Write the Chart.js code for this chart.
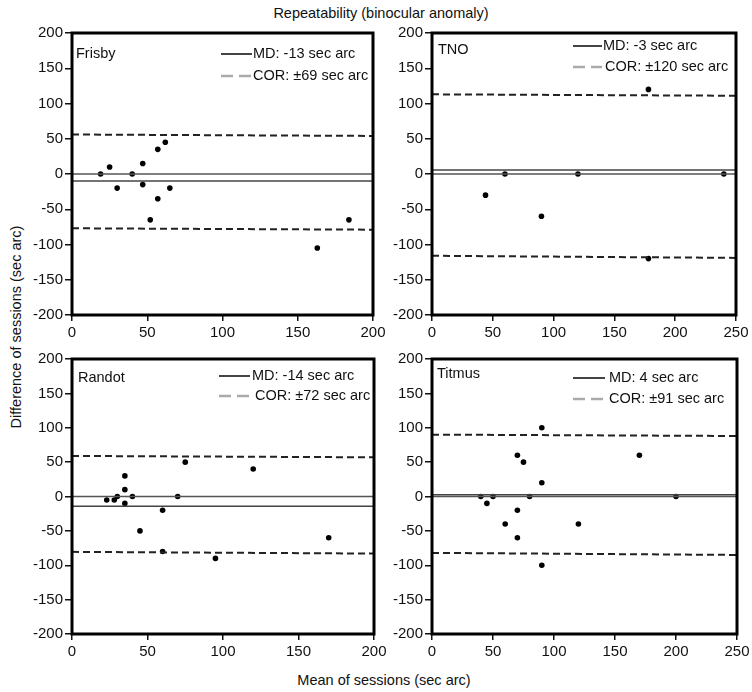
<!DOCTYPE html>
<html><head><meta charset="utf-8">
<script src="https://cdn.jsdelivr.net/npm/chart.js@4.4.1/dist/chart.umd.min.js"></script>
<style>
html,body{margin:0;padding:0;background:#fff;}
body{width:752px;height:692px;position:relative;overflow:hidden;font-family:"Liberation Sans",Arial,sans-serif;color:#111;}
canvas{position:absolute;}
.t{position:absolute;font-size:14.5px;line-height:16px;white-space:nowrap;text-align:center;width:300px;}
</style></head><body>
<div class="t" style="left:231px;top:5px;">Repeatability (binocular anomaly)</div>
<div class="t" style="left:-134px;top:319px;transform:rotate(-90deg);">Difference of sessions (sec arc)</div>
<div class="t" style="left:234px;top:672px;">Mean of sessions (sec arc)</div>
<canvas id="p1" width="370" height="335" style="left:20px;top:20px;width:370px;height:335px"></canvas>
<canvas id="p2" width="362" height="335" style="left:390px;top:20px;width:362px;height:335px"></canvas>
<canvas id="p3" width="370" height="320" style="left:20px;top:345px;width:370px;height:320px"></canvas>
<canvas id="p4" width="362" height="320" style="left:390px;top:345px;width:362px;height:320px"></canvas>
<script>
// ---- data ----
const yTicks = [-200, -150, -100, -50, 0, 50, 100, 150, 200];

const frisbyMean = [19, 25, 30, 40, 47, 47, 57, 62, 57, 52, 65, 163, 184];
const frisbyDiff = [0, 10, -20, 0, 15, -15, 35, 45, -35, -65, -20, -105, -65];
const frisbyMD = -10;
const frisbyUpper = [56, 54];
const frisbyLower = [-77, -79];
const frisbyLegend = ["MD: -13 sec arc", "COR: \u00b169 sec arc"];

const tnoMean = [44, 60, 90, 120, 178, 178, 240];
const tnoDiff = [-30, 0, -60, 0, 120, -120, 0];
const tnoMD = 5.5;
const tnoUpper = [113, 111];
const tnoLower = [-116, -119];
const tnoLegend = ["MD: -3 sec arc", "COR: \u00b1120 sec arc"];

const randotMean = [23, 28, 30, 35, 35, 35, 40, 45, 60, 60, 70, 75, 95, 120, 170];
const randotDiff = [-5, -5, 0, 30, 10, -10, 0, -50, -20, -80, 0, 50, -90, 40, -60];
const randotMD = -14;
const randotUpper = [59, 57];
const randotLower = [-80.5, -83];
const randotLegend = ["MD: -14 sec arc", "COR: \u00b172 sec arc"];

const titmusMean = [40, 45, 50, 60, 70, 75, 70, 70, 80, 90, 90, 90, 120, 170, 200];
const titmusDiff = [0, -10, 0, -40, 60, 50, -20, -60, 0, 100, 20, -100, -40, 60, 0];
const titmusMD = 2.5;
const titmusUpper = [90, 88];
const titmusLower = [-82, -85];
const titmusLegend = ["MD: 4 sec arc", "COR: \u00b191 sec arc"];

// ---- drawing ----
const FONT = '"Liberation Sans", Arial, sans-serif';

const panelDeco = {
  id: 'panelDeco',
  afterDraw(chart, args, o) {
    const ctx = chart.ctx, a = chart.chartArea;
    ctx.save();
    ctx.strokeStyle = '#000';
    ctx.lineWidth = 3;
    ctx.strokeRect(a.left, a.top, a.right - a.left, a.bottom - a.top);
    ctx.fillStyle = '#111';
    ctx.font = '14.5px ' + FONT;
    ctx.textBaseline = 'middle';
    ctx.textAlign = 'left';
    ctx.fillText(o.name, a.left + o.nameX, a.top + o.nameY);
    // MD sample
    ctx.strokeStyle = '#444';
    ctx.lineWidth = 2;
    ctx.beginPath();
    ctx.moveTo(a.right - o.lx, a.top + o.y1);
    ctx.lineTo(a.right - o.lx + o.lw, a.top + o.y1);
    ctx.stroke();
    ctx.fillText(o.legend[0], a.right - o.tx1, a.top + o.y1);
    // COR sample
    ctx.strokeStyle = '#aaa';
    ctx.lineWidth = 2.5;
    ctx.setLineDash([12, 6]);
    ctx.beginPath();
    ctx.moveTo(a.right - o.lx, a.top + o.y2);
    ctx.lineTo(a.right - o.lx + o.lw, a.top + o.y2);
    ctx.stroke();
    ctx.setLineDash([]);
    ctx.fillText(o.legend[1], a.right - o.tx2, a.top + o.y2);
    ctx.restore();
  }
};

function makePanel(id, mean, diff, md, upper, lower, xMax, legend, deco, sizes) {
  const pts = mean.map((x, i) => ({ x: x, y: diff[i] }));
  const line = (y0, y1) => [{ x: 0, y: y0 }, { x: xMax, y: y1 }];
  const lineDs = (data, dash, color, w) => ({
    type: 'line', data: data, showLine: true, pointRadius: 0,
    borderColor: color, borderWidth: w, borderDash: dash, fill: false
  });
  new Chart(document.getElementById(id), {
    type: 'scatter',
    data: {
      datasets: [
        lineDs(line(0, 0), [], '#555', 1.5),
        lineDs(line(md, md), [], '#444', 1.5),
        lineDs(line(upper[0], upper[1]), [7, 4], '#222', 2),
        lineDs(line(lower[0], lower[1]), [7, 4], '#222', 2),
        { data: pts, pointRadius: 2.8, backgroundColor: '#000', borderWidth: 0 }
      ]
    },
    options: {
      responsive: false,
      animation: false,
      layout: { padding: { top: sizes.top, right: sizes.right, left: 0, bottom: 0 } },
      plugins: {
        legend: { display: false },
        tooltip: { enabled: false },
        panelDeco: Object.assign({ legend: legend }, deco)
      },
      scales: {
        x: {
          type: 'linear', min: 0, max: xMax,
          ticks: { stepSize: 50, color: '#111', font: { size: 15, family: FONT }, padding: 3, maxRotation: 0 },
          grid: { drawOnChartArea: false, drawTicks: true, tickLength: 6, color: '#111', lineWidth: 1.5 },
          border: { display: false },
          afterFit(s) { s.height = sizes.xh; s.paddingLeft = 0; s.paddingRight = 0; }
        },
        y: {
          type: 'linear', min: -200, max: 200,
          afterBuildTicks(s) { s.ticks = yTicks.map(v => ({ value: v })); },
          ticks: { color: '#111', font: { size: 15, family: FONT }, padding: 2 },
          grid: { drawOnChartArea: false, drawTicks: true, tickLength: 7, color: '#111', lineWidth: 1.5 },
          border: { display: false },
          afterFit(s) { s.width = sizes.yw; s.paddingTop = 0; s.paddingBottom = 0; }
        }
      }
    },
    plugins: [panelDeco]
  });
}

makePanel('p1', frisbyMean, frisbyDiff, frisbyMD, frisbyUpper, frisbyLower, 200, frisbyLegend,
  { name: 'Frisby', nameX: 4, nameY: 21, lx: 152, lw: 31, tx1: 120, tx2: 120, y1: 21, y2: 43 },
  { top: 13, right: 17, yw: 52, xh: 40 });
makePanel('p2', tnoMean, tnoDiff, tnoMD, tnoUpper, tnoLower, 250, tnoLegend,
  { name: 'TNO', nameX: 6, nameY: 17, lx: 163, lw: 29, tx1: 133, tx2: 131, y1: 13, y2: 34 },
  { top: 13, right: 16, yw: 42, xh: 40 });
makePanel('p3', randotMean, randotDiff, randotMD, randotUpper, randotLower, 200, randotLegend,
  { name: 'Randot', nameX: 6, nameY: 19, lx: 155, lw: 31, tx1: 122, tx2: 119, y1: 17, y2: 37 },
  { top: 14, right: 16, yw: 52, xh: 31 });
makePanel('p4', titmusMean, titmusDiff, titmusMD, titmusUpper, titmusLower, 250, titmusLegend,
  { name: 'Titmus', nameX: 5, nameY: 15, lx: 164, lw: 32, tx1: 128, tx2: 128, y1: 19, y2: 40 },
  { top: 14, right: 15, yw: 42, xh: 31 });
</script>
</body></html>
